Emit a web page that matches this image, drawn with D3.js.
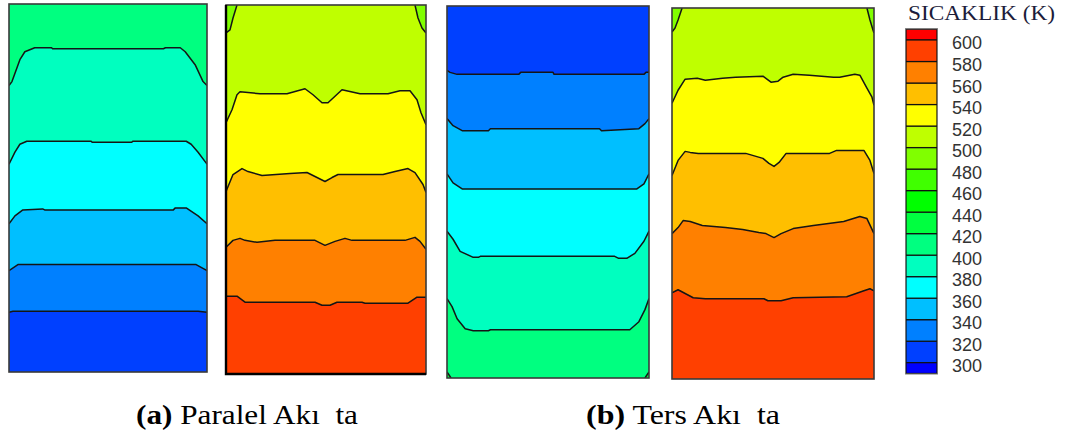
<!DOCTYPE html>
<html>
<head>
<meta charset="utf-8">
<script src="https://cdn.jsdelivr.net/npm/d3@7"></script>
<style>
  html, body { margin: 0; padding: 0; background: #fff; }
  svg { display: block; }
</style>
</head>
<body>
<svg id="chart" width="1066" height="434"></svg>
<script>
// Temperature scale (K): contour thresholds, legend tick labels and band colours
const thresholds = [300, 320, 340, 360, 380, 400, 420, 440, 460, 480, 500, 520, 540, 560, 580, 600];
const legendTicks = [600, 580, 560, 540, 520, 500, 480, 460, 440, 420, 400, 380, 360, 340, 320, 300];
const bandColors = ["#0000ff", "#0040ff", "#0080ff", "#00bfff", "#00ffff", "#00ffbf", "#00ff80", "#00ff40",
                    "#00ff00", "#40ff00", "#80ff00", "#bfff00", "#ffff00", "#ffbf00", "#ff8000", "#ff4000", "#ff0000"];

// Isotherms as [x, y] in grid units: x 0..200 across the channel, y 0..370 from the top

// (a) parallel flow, cold stream
const paraColdLevels = [400, 380, 360, 340, 320];
const paraColdLines = [
  [[0,82],[3,78],[11,56],[16,48],[26,44],[43,44],[44,45],[156,45],[158,44],[173,44],[178,48],[188,61],[196,78],[200,82]],
  [[0,161],[6,149],[11,141],[18,138],[83,138],[84,139],[124,139],[125,138],[179,138],[184,141],[191,149],[200,161]],
  [[0,221],[6,213],[14,207],[34,206],[36,207],[166,207],[168,205],[179,205],[191,213],[200,221]],
  [[0,268],[9,262],[189,262],[200,268]],
  [[0,310],[4,309],[191,309],[200,310]]
];
const paraColdCorners = [];

// (a) parallel flow, hot stream
const paraHotLevels = [520, 540, 560, 580];
const paraHotLines = [
  [[0,118],[6,105],[11,90],[14,87],[34,89],[61,89],[79,84],[87,90],[96,98],[102,98],[116,85],[134,89],[162,89],[174,86],[184,86],[191,95],[195,108],[200,120]],
  [[0,187],[7,170],[16,164],[22,167],[36,171],[64,169],[81,168],[89,172],[99,177],[106,173],[112,170],[157,170],[169,167],[182,164],[189,168],[197,180],[200,188]],
  [[0,243],[7,236],[14,234],[19,236],[31,238],[49,236],[89,236],[99,241],[109,237],[119,234],[126,236],[179,236],[189,233],[194,237],[200,245]],
  [[0,292],[11,292],[19,298],[66,298],[89,298],[96,301],[104,301],[111,298],[136,298],[139,299],[182,299],[191,293],[200,293]]
];
const paraHotCorners = [
  { level: 500, pts: [[11,0],[7,13],[4,25],[0,28]] },
  { level: 500, pts: [[189,0],[192,13],[196,23],[200,28]] }
];

// (b) counter flow, cold stream
const counterColdLevels = [320, 340, 360, 380, 400];
const counterColdLines = [
  [[0,64],[3,66],[10,68],[71,68],[73,66],[105,66],[106,68],[195,68],[197,66],[200,66]],
  [[0,112],[6,119],[15,124],[41,124],[43,122],[151,122],[153,124],[190,122],[196,117],[200,112]],
  [[0,167],[6,176],[15,182],[188,182],[195,177],[200,167]],
  [[0,224],[6,232],[13,244],[26,250],[31,250],[33,249],[166,249],[170,251],[178,251],[186,246],[195,234],[200,224]],
  [[0,291],[5,299],[10,311],[18,321],[26,323],[41,323],[43,322],[181,322],[190,314],[196,302],[200,291]]
];
const counterColdCorners = [
  { level: 420, pts: [[0,364],[4,370]] },
  { level: 420, pts: [[196,370],[200,364]] }
];

// (b) counter flow, hot stream
const counterHotLevels = [520, 540, 560, 580];
const counterHotLines = [
  [[0,95],[6,82],[13,71],[25,70],[33,72],[50,70],[63,69],[90,68],[98,74],[105,73],[110,69],[120,66],[136,67],[160,69],[166,69],[181,66],[186,67],[193,80],[198,89],[200,97]],
  [[0,167],[6,152],[13,143],[18,144],[26,145],[73,145],[90,150],[96,155],[101,158],[106,154],[113,145],[156,145],[163,142],[190,142],[196,152],[200,165]],
  [[0,225],[6,219],[11,212],[18,213],[30,217],[53,219],[70,221],[86,224],[93,225],[101,229],[108,225],[120,220],[140,217],[170,213],[186,208],[193,210],[200,225]],
  [[0,284],[6,281],[21,289],[33,290],[91,290],[95,292],[108,292],[120,289],[173,288],[190,282],[196,280],[200,282]]
];
const counterHotCorners = [
  { level: 500, pts: [[10,0],[6,12],[3,20],[0,24]] },
  { level: 500, pts: [[193,0],[196,12],[199,22],[200,25]] }
];

const captions = [
  { bold: "(a)", rest: " Paralel Akı\u00a0\u00a0ta" },
  { bold: "(b)", rest: " Ters Akı\u00a0\u00a0ta" }
];
const legendTitle = "SICAKLIK (K)";

// ---------------------------------------------------------------------------
const svg = d3.select("#chart");
const color = d3.scaleThreshold().domain(thresholds).range(bandColors);
const GRID_W = 200, GRID_H = 370;

function drawPanel(id, box, levels, lines, corners) {
  const x = d3.scaleLinear().domain([0, GRID_W]).range([box.x0, box.x1]);
  const y = d3.scaleLinear().domain([0, GRID_H]).range([box.y0, box.y1]);
  const dir = Math.sign(levels[1] - levels[0]);   // +1 when temperature rises downward

  svg.append("clipPath").attr("id", id)
    .append("rect")
    .attr("x", box.x0).attr("y", box.y0)
    .attr("width", box.x1 - box.x0).attr("height", box.y1 - box.y0);

  const g = svg.append("g").attr("clip-path", `url(#${id})`);

  const bottomTemp = levels[levels.length - 1] + 10 * dir;
  const topTemp = levels[0] - 10 * dir;

  g.append("rect")
    .attr("x", box.x0).attr("y", box.y0)
    .attr("width", box.x1 - box.x0).attr("height", box.y1 - box.y0)
    .attr("fill", color(bottomTemp));

  const area = d3.area()
    .x(d => x(d[0]))
    .y0(y(0))
    .y1(d => y(d[1]));

  // Fill from the lowest isotherm upward; each fill covers the band above its line
  for (let i = levels.length - 1; i >= 0; i--) {
    g.append("path")
      .attr("d", area(lines[i]))
      .attr("fill", color(levels[i] - 10 * dir));
  }

  const line = d3.line().x(d => x(d[0])).y(d => y(d[1]));

  // Corner pockets where an isotherm cuts off a channel corner
  corners.forEach(c => {
    const a = c.pts[0], b = c.pts[c.pts.length - 1];
    const onSide = p => p[0] === 0 || p[0] === GRID_W;
    const vx = onSide(a) ? a[0] : b[0];
    const vy = onSide(a) ? b[1] : a[1];
    const adjacent = vy === 0 ? topTemp : bottomTemp;
    const t = adjacent > c.level ? c.level - 10 : c.level + 10;
    g.append("path")
      .attr("d", line(c.pts.concat([[vx, vy]])) + "Z")
      .attr("fill", color(t));
  });

  // Isotherm lines
  lines.concat(corners.map(c => c.pts)).forEach(pts => {
    g.append("path")
      .attr("d", line(pts))
      .attr("fill", "none")
      .attr("stroke", "#151515")
      .attr("stroke-width", 1.5)
      .attr("stroke-linejoin", "round");
  });

  // Channel outline
  svg.append("rect")
    .attr("x", box.x0).attr("y", box.y0)
    .attr("width", box.x1 - box.x0).attr("height", box.y1 - box.y0)
    .attr("fill", "none")
    .attr("stroke", "#3a3a3a")
    .attr("stroke-width", 1.6);
}

drawPanel("clipA1", { x0: 9,   y0: 4, x1: 207, y1: 372 }, paraColdLevels, paraColdLines, paraColdCorners);
drawPanel("clipA2", { x0: 226, y0: 5, x1: 426, y1: 374 }, paraHotLevels, paraHotLines, paraHotCorners);
drawPanel("clipB1", { x0: 447, y0: 6, x1: 649, y1: 378 }, counterColdLevels, counterColdLines, counterColdCorners);
drawPanel("clipB2", { x0: 672, y0: 8, x1: 874, y1: 379 }, counterHotLevels, counterHotLines, counterHotCorners);

// Heavier edges on the parallel-flow hot channel
svg.append("path")
  .attr("d", "M226,5V374H426")
  .attr("fill", "none").attr("stroke", "#000").attr("stroke-width", 2.4);

// ---------------------------------------------------------------------------
// Colour legend
const ly = d3.scaleLinear().domain([600, 300]).range([40, 362.7]);
const legX = 906, legW = 31;
const legendBands = [[600, 610]].concat(
  d3.range(0, thresholds.length - 1).map(i => [thresholds[i], thresholds[i + 1]]),
  [[290, 300]]
);
const lg = svg.append("g");
lg.selectAll("rect.band")
  .data(legendBands)
  .join("rect")
  .attr("class", "band")
  .attr("x", legX)
  .attr("width", legW)
  .attr("y", d => ly(d[1]))
  .attr("height", d => ly(d[0]) - ly(d[1]))
  .attr("fill", d => color((d[0] + d[1]) / 2))
  .attr("stroke", "#111")
  .attr("stroke-width", 1.2);

lg.append("rect")
  .attr("x", legX - 0.5).attr("y", ly(610) - 0.5)
  .attr("width", legW + 1).attr("height", ly(290) - ly(610) + 1)
  .attr("fill", "none").attr("stroke", "#777").attr("stroke-width", 1);

lg.selectAll("text.tick")
  .data(legendTicks)
  .join("text")
  .attr("class", "tick")
  .attr("x", 952)
  .attr("y", d => ly(d) + 3)
  .attr("dy", "0.36em")
  .attr("font-family", "Liberation Sans, Arial, sans-serif")
  .attr("font-size", 18)
  .attr("fill", "#333")
  .text(d => d);

svg.append("text")
  .attr("x", 908).attr("y", 20)
  .attr("font-family", "Liberation Serif, Times New Roman, serif")
  .attr("font-size", 20)
  .attr("fill", "#1c1c3a")
  .attr("textLength", 147)
  .attr("lengthAdjust", "spacingAndGlyphs")
  .text(legendTitle);

// ---------------------------------------------------------------------------
// Captions
const capPos = [{ x: 136, w: 222 }, { x: 586, w: 194 }];
captions.forEach((c, i) => {
  const t = svg.append("text")
    .attr("x", capPos[i].x).attr("y", 424)
    .attr("font-family", "Liberation Serif, Times New Roman, serif")
    .attr("font-size", 27)
    .attr("fill", "#000")
    .attr("textLength", capPos[i].w)
    .attr("lengthAdjust", "spacingAndGlyphs")
    .style("white-space", "pre");
  t.append("tspan").attr("font-weight", "bold").text(c.bold);
  t.append("tspan").text(c.rest);
});
</script>
</body>
</html>
